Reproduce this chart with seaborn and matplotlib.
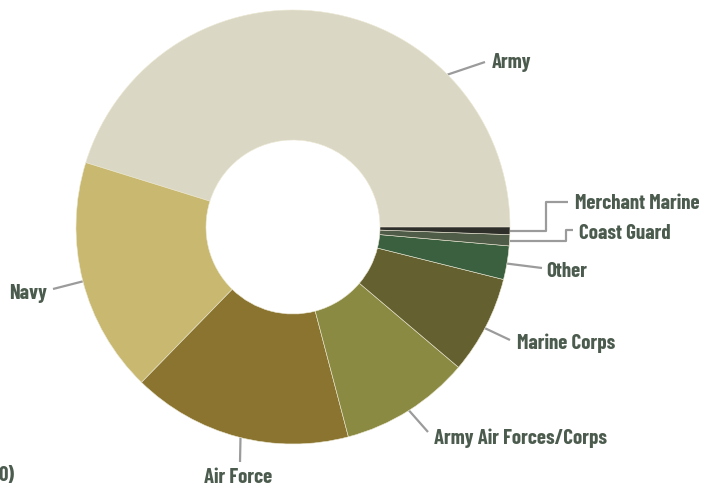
import matplotlib
matplotlib.use("Agg")
import numpy as np
import matplotlib.pyplot as plt
import seaborn as sns

# share of veterans by branch (%)
branches = ["Army", "Navy", "Air Force", "Army Air Forces/Corps", "Marine Corps",
            "Other", "Coast Guard", "Merchant Marine"]
shares = [45.2, 17.5, 16.4, 9.7, 7.3, 2.5, 0.83, 0.56]
colors = ["#dad7c4", "#c8b870", "#8a742f", "#8a8a42", "#646030",
          "#3a6040", "#4f5c48", "#2e2e2a"]

W, H = 713, 489
CX, CY, R, HOLE = 293, 228, 217, 87   # pixels, y measured from top

sns.set_theme(style="white")
plt.rcParams['font.family'] = ['Barlow Condensed', 'DejaVu Sans']

fig = plt.figure(figsize=(W / 100, H / 100), dpi=100)
ax = fig.add_axes([0, 0, 1, 1])

wedges, _ = ax.pie(shares, colors=colors, startangle=0, counterclock=True,
                   center=(CX, H - CY), radius=R,
                   wedgeprops=dict(width=R - HOLE, edgecolor="#ece8d4", linewidth=0.4))
ax.set_xlim(0, W)
ax.set_ylim(0, H)
ax.set_aspect("equal")
ax.axis("off")

# label layout: anchor angle on the rim (deg), leader path points (px), text pos (px), alignment
layout = {
    "Army": (44.6, [(485, 63)], (492, 63), "left"),
    "Navy": (194.5, [(53, 290)], (47, 294), "right"),
    "Air Force": (256.0, [(240, 463)], (238, 478), "center"),
    "Army Air Forces/Corps": (302.3, [(428, 433)], (434, 438), "left"),
    "Marine Corps": (332.2, [(510, 341)], (517, 343), "left"),
    "Other": (350.3, [(542, 269)], (546, 272), "left"),
    "Coast Guard": (356.3, [(566, 242), (566, 231), (573, 231)], (579, 234), "left"),
    "Merchant Marine": (359.0, [(546, 232), (546, 203), (568, 203)], (575, 204), "left"),
}

for name in branches:
    ang, path, (tx, ty), ha = layout[name]
    a = np.deg2rad(ang)
    sx = CX + R * np.cos(a)
    sy = CY - R * np.sin(a)
    xs = [sx] + [p[0] for p in path]
    ys = [sy] + [p[1] for p in path]
    if name in ("Merchant Marine", "Coast Guard"):
        ys[1] = sy
    ax.plot(xs, [H - y for y in ys], color="#9b9b9b", lw=1.6, solid_capstyle="butt",
            zorder=0 if name not in ("Merchant Marine", "Coast Guard") else 3)
    ax.text(tx, H - ty, name, ha=ha, va="center", fontsize=15, fontweight="bold",
            color="#4b5b4d")

ax.text(14, H - 476, "0)", ha="right", va="center", fontsize=15, fontweight="bold",
        color="#4b5b4d")

fig.savefig("out.png", dpi=100, facecolor="white")
